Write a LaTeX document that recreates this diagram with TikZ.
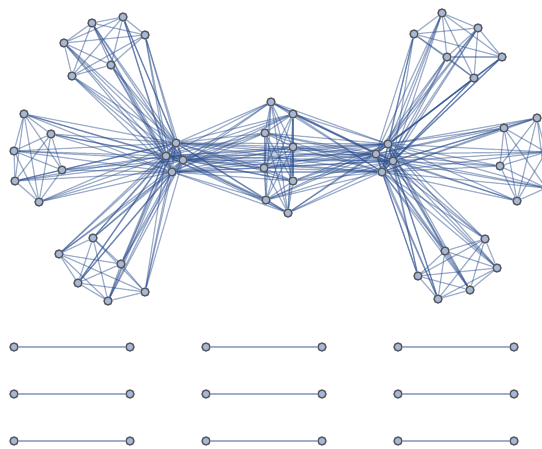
\documentclass[tikz,border=0pt]{standalone}
\usetikzlibrary{backgrounds}
\definecolor{edgeblue}{RGB}{40,75,140}
\definecolor{vertfill}{RGB}{165,185,215}
\definecolor{vertdraw}{RGB}{85,85,90}
\tikzset{
  vert/.style={circle, fill=vertfill, draw=vertdraw, line width=0.8pt, minimum size=0.16cm, inner sep=0pt},
  edge/.style={draw=edgeblue, draw opacity=0.45, line width=0.7pt}
}
\begin{document}
\begin{tikzpicture}[x=0.02cm, y=-0.02cm, line cap=round, line join=round]
  \useasboundingbox (0,0) rectangle (542,449);

  % nodi centrali (hub sinistro e destro)
  \foreach \n/\x/\y in {hl1/176/143, hl2/166/156, hl3/183/160, hl4/172/172,
                        hr1/388/144, hr2/376/154, hr3/393/161, hr4/382/172}
    \node[vert] (\n) at (\x,\y) {};

  % gruppo in mezzo
  \foreach \n/\x/\y in {m1/271/102, m2/293/114, m3/265/133, m4/293/147,
                        m5/264/168, m6/293/181, m7/266/200, m8/288/213}
    \node[vert] (\n) at (\x,\y) {};

  % gruppi esterni da sei
  \foreach \n/\x/\y in {tl1/92/23, tl2/123/17, tl3/145/35, tl4/64/43, tl5/111/65, tl6/72/76,
                        l1/24/114, l2/51/134, l3/14/151, l4/62/170, l5/15/181, l6/39/202,
                        bl1/93/238, bl2/59/254, bl3/121/264, bl4/78/283, bl5/145/292, bl6/108/301,
                        tr1/442/13, tr2/478/28, tr3/414/34, tr4/502/57, tr5/447/57, tr6/474/78,
                        r1/504/128, r2/537/118, r3/546/152, r4/500/166, r5/546/188, r6/517/201,
                        br1/485/239, br2/445/251, br3/497/268, br4/418/276, br5/470/290, br6/438/299}
    \node[vert] (\n) at (\x,\y) {};

  % coppie in basso
  \foreach \i/\xa/\xb/\y in {1/14/130/347, 2/206/322/347, 3/398/514/347,
                             4/14/130/394, 5/206/322/394, 6/398/514/394,
                             7/14/130/441, 8/206/322/441, 9/398/514/441} {
    \node[vert] (pa\i) at (\xa,\y) {};
    \node[vert] (pb\i) at (\xb,\y) {};
  }

  \begin{pgfonlayer}{background}
    % grafi completi nei gruppi esterni
    \foreach \c in {tl,l,bl,tr,r,br}
      \foreach \i in {1,...,5} {
        \pgfmathtruncatemacro\k{\i+1}
        \foreach \j in {\k,...,6}
          \draw[edge] (\c\i) -- (\c\j);
      }
    % gruppi esterni verso il loro hub
    \foreach \c/\h in {tl/hl, l/hl, bl/hl, tr/hr, r/hr, br/hr}
      \foreach \i in {1,...,6}
        \foreach \j in {1,...,4}
          \draw[edge] (\c\i) -- (\h\j);
    % gruppo in mezzo
    \foreach \i in {1,...,7} {
      \pgfmathtruncatemacro\k{\i+1}
      \foreach \j in {\k,...,8}
        \draw[edge] (m\i) -- (m\j);
    }
    \foreach \i in {1,...,8}
      \foreach \j in {1,...,4} {
        \draw[edge] (m\i) -- (hl\j);
        \draw[edge] (m\i) -- (hr\j);
      }
    % hub tra loro
    \foreach \h in {hl,hr}
      \foreach \i in {1,...,3} {
        \pgfmathtruncatemacro\k{\i+1}
        \foreach \j in {\k,...,4}
          \draw[edge] (\h\i) -- (\h\j);
      }
    \foreach \i in {1,...,4}
      \foreach \j in {1,...,4}
        \draw[edge] (hl\i) -- (hr\j);
    % coppie
    \foreach \i in {1,...,9}
      \draw[edge, line width=1pt] (pa\i) -- (pb\i);
  \end{pgfonlayer}
\end{tikzpicture}
\end{document}
